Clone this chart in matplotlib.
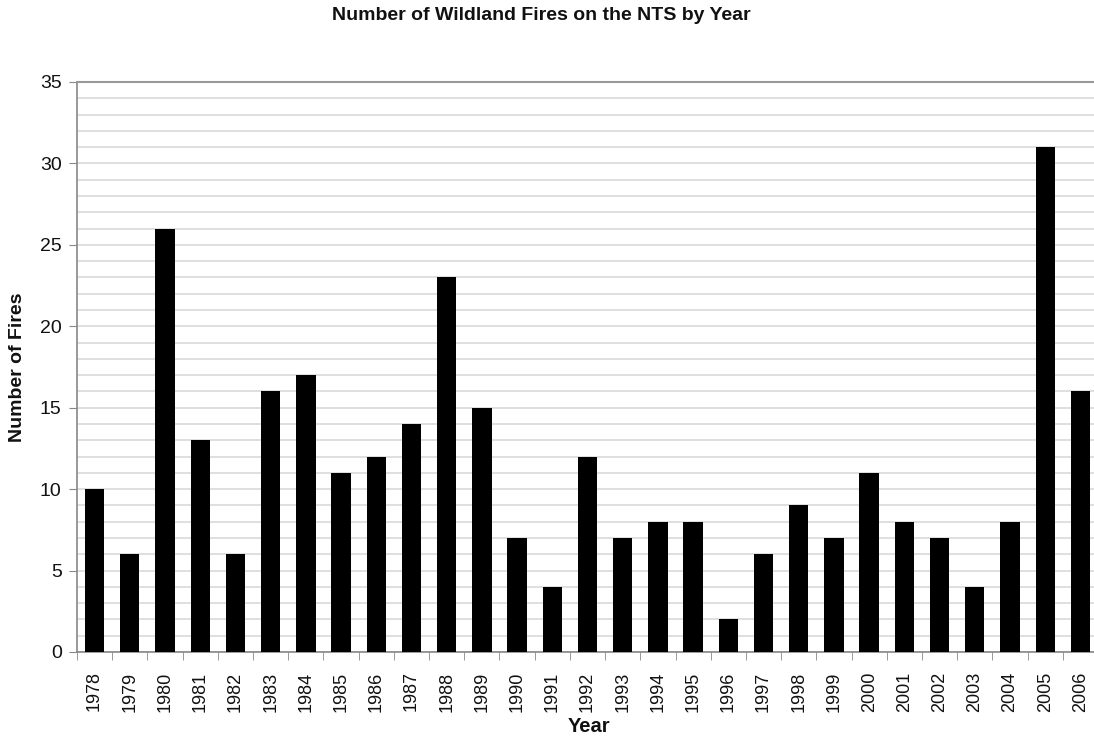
import matplotlib
matplotlib.use("Agg")
import matplotlib.pyplot as plt
import numpy as np

years = [str(y) for y in range(1978, 2007)]
fires = [10, 6, 26, 13, 6, 16, 17, 11, 12, 14, 23, 15, 7, 4, 12, 7, 8, 8, 2, 6, 9, 7, 11, 8, 7, 4, 8, 31, 16]

plt.rcParams['font.family'] = ['Liberation Sans', 'DejaVu Sans']

fig = plt.figure(figsize=(10.94, 7.38), dpi=100)
ax = fig.add_axes([77/1094, 1-652/738, 1021/1094, 570/738])

x = np.arange(len(years))
ax.bar(x, fires, width=0.55, color='black', zorder=3)

ax.set_xlim(-0.5, len(years)-0.5)
ax.set_ylim(0, 35)
ax.set_yticks(range(0, 36, 5))
ax.set_yticks(range(0, 36, 1), minor=True)
ax.grid(axis='y', which='both', color='#d9d9d9', linewidth=1.2, zorder=0)
ax.tick_params(axis='y', which='minor', length=0)
ax.tick_params(axis='y', which='major', length=6, color='#888888', labelsize=14, pad=5, labelcolor='#111111')

ax.set_xticks(x)
ax.set_xticklabels(years, rotation=90, fontsize=13, color='#111111')
ax.set_xticks(np.arange(-0.5, len(years), 1), minor=True)
ax.tick_params(axis='x', which='major', length=0, pad=14)
ax.tick_params(axis='x', which='minor', length=6, color='#888888')

ax.spines['right'].set_visible(False)
ax.spines['top'].set_color('#999999')
ax.spines['top'].set_linewidth(1.5)
ax.spines['left'].set_color('#888888')
ax.spines['left'].set_linewidth(1.2)
ax.spines['bottom'].set_color('#888888')
ax.spines['bottom'].set_linewidth(1.2)

fig.text(541/1094, 1-16/738, 'Number of Wildland Fires on the NTS by Year', ha='center', va='center',
         fontsize=14, fontweight='bold', color='#111111')
fig.text(18/1094, 1-367/738, 'Number of Fires', rotation=90, ha='center', va='center',
         fontsize=14, fontweight='bold', color='#111111')
fig.text(589/1094, 1-726/738, 'Year', ha='center', va='center', fontsize=14.5, fontweight='bold', color='#111111')

fig.savefig('out.png', dpi=100)
